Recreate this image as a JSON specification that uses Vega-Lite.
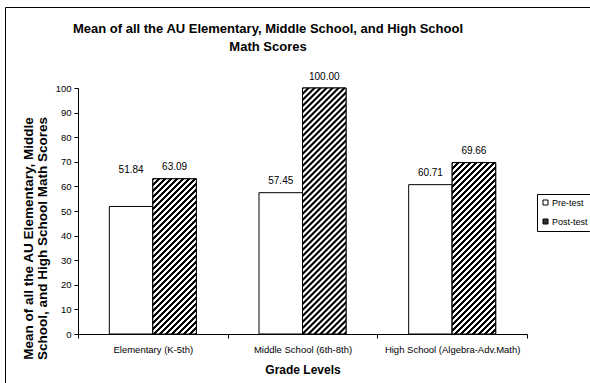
{
  "$schema": "https://vega.github.io/schema/vega-lite/v6.json",
  "width": 585,
  "height": 376,
  "autosize": {"type": "none"},
  "padding": {"left": 5, "top": 7, "right": 0, "bottom": 0},
  "background": "white",
  "config": {
    "font": "Liberation Sans",
    "view": {"stroke": "black", "strokeWidth": 1},
    "axis": {
      "grid": false,
      "domainColor": "black",
      "tickColor": "black",
      "labelColor": "black",
      "titleColor": "black",
      "labelFont": "Liberation Sans",
      "titleFont": "Liberation Sans",
      "domainWidth": 1,
      "tickWidth": 1
    }
  },
  "title": {
    "text": ["Mean of all the AU Elementary, Middle School, and High School", "Math Scores"],
    "fontSize": 13,
    "fontWeight": "bold",
    "color": "black",
    "lineHeight": 18.5,
    "anchor": "middle",
    "frame": "group",
    "dx": -29.5,
    "offset": -47
  },
  "data": {
    "values": [
      {"grade": "Elementary (K-5th)", "series": "Pre-test", "score": 51.84},
      {"grade": "Elementary (K-5th)", "series": "Post-test", "score": 63.09},
      {"grade": "Middle School (6th-8th)", "series": "Pre-test", "score": 57.45},
      {"grade": "Middle School (6th-8th)", "series": "Post-test", "score": 100.00},
      {"grade": "High School (Algebra-Adv.Math)", "series": "Pre-test", "score": 60.71},
      {"grade": "High School (Algebra-Adv.Math)", "series": "Post-test", "score": 69.66}
    ]
  },
  "encoding": {
    "x": {
      "field": "grade",
      "type": "nominal",
      "sort": ["Elementary (K-5th)", "Middle School (6th-8th)", "High School (Algebra-Adv.Math)"],
      "scale": {"range": [73, 522], "paddingInner": 0, "paddingOuter": 0},
      "axis": {
        "orient": "bottom",
        "offset": -49,
        "tickBand": "extent",
        "labelAngle": 0,
        "tickSize": 4,
        "labelPadding": 6,
        "labelFontSize": 9.5,
        "title": "Grade Levels",
        "titleFontSize": 12,
        "titleFontWeight": "bold",
        "titleBaseline": "alphabetic",
        "titleY": 39
      }
    },
    "xOffset": {
      "field": "series",
      "type": "nominal",
      "scale": {"domain": ["Pre-test", "Post-test"], "paddingOuter": 0.72, "paddingInner": 0}
    },
    "y": {
      "field": "score",
      "type": "quantitative",
      "scale": {"domain": [0, 100], "range": [327, 81], "nice": false, "zero": true},
      "axis": {
        "orient": "left",
        "offset": -73,
        "values": [0, 10, 20, 30, 40, 50, 60, 70, 80, 90, 100],
        "tickSize": 4,
        "labelPadding": 3,
        "labelFontSize": 9.5,
        "title": ["Mean of all the AU Elementary, Middle", "School, and High School Math Scores"],
        "titleFontSize": 13.5,
        "titleFontWeight": "bold",
        "titleLineHeight": 14,
        "titleAngle": -90,
        "titleAlign": "center",
        "titleBaseline": "middle",
        "titleX": -50,
        "titleY": 231
      }
    }
  },
  "layer": [
    {
      "mark": {"type": "bar", "stroke": "black", "strokeWidth": 1},
      "encoding": {
        "fill": {
          "field": "series",
          "type": "nominal",
          "scale": {"domain": ["Pre-test", "Post-test"], "range": ["white", "#333333"]},
          "legend": {
            "title": null,
            "orient": "none",
            "legendX": 532,
            "legendY": 187,
            "strokeColor": "black",
            "fillColor": "white",
            "padding": 4,
            "rowPadding": 9,
            "symbolType": "square",
            "symbolSize": 25,
            "symbolStrokeColor": "black",
            "symbolStrokeWidth": 1,
            "labelFontSize": 9,
            "labelColor": "black",
            "labelOffset": 2
          }
        }
      }
    },
    {
      "transform": [{"filter": "datum.series === 'Post-test' && datum.grade === 'Elementary (K-5th)'"}],
      "mark": {
        "type": "bar",
        "stroke": "black",
        "strokeWidth": 1,
        "fill": {
          "gradient": "linear",
          "x1": 0, "y1": 0, "x2": 0.5023, "y2": 1.7922,
          "stops": [
            {"offset":0.0045,"color":"#000"},{"offset":0.0055,"color":"#fff"},{"offset":0.0145,"color":"#fff"},{"offset":0.0155,"color":"#000"},
            {"offset":0.0245,"color":"#000"},{"offset":0.0255,"color":"#fff"},{"offset":0.0345,"color":"#fff"},{"offset":0.0355,"color":"#000"},
            {"offset":0.0445,"color":"#000"},{"offset":0.0455,"color":"#fff"},{"offset":0.0545,"color":"#fff"},{"offset":0.0555,"color":"#000"},
            {"offset":0.0645,"color":"#000"},{"offset":0.0655,"color":"#fff"},{"offset":0.0745,"color":"#fff"},{"offset":0.0755,"color":"#000"},
            {"offset":0.0845,"color":"#000"},{"offset":0.0855,"color":"#fff"},{"offset":0.0945,"color":"#fff"},{"offset":0.0955,"color":"#000"},
            {"offset":0.1045,"color":"#000"},{"offset":0.1055,"color":"#fff"},{"offset":0.1145,"color":"#fff"},{"offset":0.1155,"color":"#000"},
            {"offset":0.1245,"color":"#000"},{"offset":0.1255,"color":"#fff"},{"offset":0.1345,"color":"#fff"},{"offset":0.1355,"color":"#000"},
            {"offset":0.1445,"color":"#000"},{"offset":0.1455,"color":"#fff"},{"offset":0.1545,"color":"#fff"},{"offset":0.1555,"color":"#000"},
            {"offset":0.1645,"color":"#000"},{"offset":0.1655,"color":"#fff"},{"offset":0.1745,"color":"#fff"},{"offset":0.1755,"color":"#000"},
            {"offset":0.1845,"color":"#000"},{"offset":0.1855,"color":"#fff"},{"offset":0.1945,"color":"#fff"},{"offset":0.1955,"color":"#000"},
            {"offset":0.2045,"color":"#000"},{"offset":0.2055,"color":"#fff"},{"offset":0.2145,"color":"#fff"},{"offset":0.2155,"color":"#000"},
            {"offset":0.2245,"color":"#000"},{"offset":0.2255,"color":"#fff"},{"offset":0.2345,"color":"#fff"},{"offset":0.2355,"color":"#000"},
            {"offset":0.2445,"color":"#000"},{"offset":0.2455,"color":"#fff"},{"offset":0.2545,"color":"#fff"},{"offset":0.2555,"color":"#000"},
            {"offset":0.2645,"color":"#000"},{"offset":0.2655,"color":"#fff"},{"offset":0.2745,"color":"#fff"},{"offset":0.2755,"color":"#000"},
            {"offset":0.2845,"color":"#000"},{"offset":0.2855,"color":"#fff"},{"offset":0.2945,"color":"#fff"},{"offset":0.2955,"color":"#000"},
            {"offset":0.3045,"color":"#000"},{"offset":0.3055,"color":"#fff"},{"offset":0.3145,"color":"#fff"},{"offset":0.3155,"color":"#000"},
            {"offset":0.3245,"color":"#000"},{"offset":0.3255,"color":"#fff"},{"offset":0.3345,"color":"#fff"},{"offset":0.3355,"color":"#000"},
            {"offset":0.3445,"color":"#000"},{"offset":0.3455,"color":"#fff"},{"offset":0.3545,"color":"#fff"},{"offset":0.3555,"color":"#000"},
            {"offset":0.3645,"color":"#000"},{"offset":0.3655,"color":"#fff"},{"offset":0.3745,"color":"#fff"},{"offset":0.3755,"color":"#000"},
            {"offset":0.3845,"color":"#000"},{"offset":0.3855,"color":"#fff"},{"offset":0.3945,"color":"#fff"},{"offset":0.3955,"color":"#000"},
            {"offset":0.4045,"color":"#000"},{"offset":0.4055,"color":"#fff"},{"offset":0.4145,"color":"#fff"},{"offset":0.4155,"color":"#000"},
            {"offset":0.4245,"color":"#000"},{"offset":0.4255,"color":"#fff"},{"offset":0.4345,"color":"#fff"},{"offset":0.4355,"color":"#000"},
            {"offset":0.4445,"color":"#000"},{"offset":0.4455,"color":"#fff"},{"offset":0.4545,"color":"#fff"},{"offset":0.4555,"color":"#000"},
            {"offset":0.4645,"color":"#000"},{"offset":0.4655,"color":"#fff"},{"offset":0.4745,"color":"#fff"},{"offset":0.4755,"color":"#000"},
            {"offset":0.4845,"color":"#000"},{"offset":0.4855,"color":"#fff"},{"offset":0.4945,"color":"#fff"},{"offset":0.4955,"color":"#000"},
            {"offset":0.5045,"color":"#000"},{"offset":0.5055,"color":"#fff"},{"offset":0.5145,"color":"#fff"},{"offset":0.5155,"color":"#000"},
            {"offset":0.5245,"color":"#000"},{"offset":0.5255,"color":"#fff"},{"offset":0.5345,"color":"#fff"},{"offset":0.5355,"color":"#000"},
            {"offset":0.5445,"color":"#000"},{"offset":0.5455,"color":"#fff"},{"offset":0.5545,"color":"#fff"},{"offset":0.5555,"color":"#000"},
            {"offset":0.5645,"color":"#000"},{"offset":0.5655,"color":"#fff"},{"offset":0.5745,"color":"#fff"},{"offset":0.5755,"color":"#000"},
            {"offset":0.5845,"color":"#000"},{"offset":0.5855,"color":"#fff"},{"offset":0.5945,"color":"#fff"},{"offset":0.5955,"color":"#000"},
            {"offset":0.6045,"color":"#000"},{"offset":0.6055,"color":"#fff"},{"offset":0.6145,"color":"#fff"},{"offset":0.6155,"color":"#000"},
            {"offset":0.6245,"color":"#000"},{"offset":0.6255,"color":"#fff"},{"offset":0.6345,"color":"#fff"},{"offset":0.6355,"color":"#000"},
            {"offset":0.6445,"color":"#000"},{"offset":0.6455,"color":"#fff"},{"offset":0.6545,"color":"#fff"},{"offset":0.6555,"color":"#000"},
            {"offset":0.6645,"color":"#000"},{"offset":0.6655,"color":"#fff"},{"offset":0.6745,"color":"#fff"},{"offset":0.6755,"color":"#000"}
          ]
        }
      }
    },
    {
      "transform": [{"filter": "datum.series === 'Post-test' && datum.grade === 'Middle School (6th-8th)'"}],
      "mark": {
        "type": "bar",
        "stroke": "black",
        "strokeWidth": 1,
        "fill": {
          "gradient": "linear",
          "x1": 0, "y1": 0, "x2": 0.2091, "y2": 1.1825,
          "stops": [
            {"offset":0.0045,"color":"#000"},{"offset":0.0055,"color":"#fff"},{"offset":0.0145,"color":"#fff"},{"offset":0.0155,"color":"#000"},
            {"offset":0.0245,"color":"#000"},{"offset":0.0255,"color":"#fff"},{"offset":0.0345,"color":"#fff"},{"offset":0.0355,"color":"#000"},
            {"offset":0.0445,"color":"#000"},{"offset":0.0455,"color":"#fff"},{"offset":0.0545,"color":"#fff"},{"offset":0.0555,"color":"#000"},
            {"offset":0.0645,"color":"#000"},{"offset":0.0655,"color":"#fff"},{"offset":0.0745,"color":"#fff"},{"offset":0.0755,"color":"#000"},
            {"offset":0.0845,"color":"#000"},{"offset":0.0855,"color":"#fff"},{"offset":0.0945,"color":"#fff"},{"offset":0.0955,"color":"#000"},
            {"offset":0.1045,"color":"#000"},{"offset":0.1055,"color":"#fff"},{"offset":0.1145,"color":"#fff"},{"offset":0.1155,"color":"#000"},
            {"offset":0.1245,"color":"#000"},{"offset":0.1255,"color":"#fff"},{"offset":0.1345,"color":"#fff"},{"offset":0.1355,"color":"#000"},
            {"offset":0.1445,"color":"#000"},{"offset":0.1455,"color":"#fff"},{"offset":0.1545,"color":"#fff"},{"offset":0.1555,"color":"#000"},
            {"offset":0.1645,"color":"#000"},{"offset":0.1655,"color":"#fff"},{"offset":0.1745,"color":"#fff"},{"offset":0.1755,"color":"#000"},
            {"offset":0.1845,"color":"#000"},{"offset":0.1855,"color":"#fff"},{"offset":0.1945,"color":"#fff"},{"offset":0.1955,"color":"#000"},
            {"offset":0.2045,"color":"#000"},{"offset":0.2055,"color":"#fff"},{"offset":0.2145,"color":"#fff"},{"offset":0.2155,"color":"#000"},
            {"offset":0.2245,"color":"#000"},{"offset":0.2255,"color":"#fff"},{"offset":0.2345,"color":"#fff"},{"offset":0.2355,"color":"#000"},
            {"offset":0.2445,"color":"#000"},{"offset":0.2455,"color":"#fff"},{"offset":0.2545,"color":"#fff"},{"offset":0.2555,"color":"#000"},
            {"offset":0.2645,"color":"#000"},{"offset":0.2655,"color":"#fff"},{"offset":0.2745,"color":"#fff"},{"offset":0.2755,"color":"#000"},
            {"offset":0.2845,"color":"#000"},{"offset":0.2855,"color":"#fff"},{"offset":0.2945,"color":"#fff"},{"offset":0.2955,"color":"#000"},
            {"offset":0.3045,"color":"#000"},{"offset":0.3055,"color":"#fff"},{"offset":0.3145,"color":"#fff"},{"offset":0.3155,"color":"#000"},
            {"offset":0.3245,"color":"#000"},{"offset":0.3255,"color":"#fff"},{"offset":0.3345,"color":"#fff"},{"offset":0.3355,"color":"#000"},
            {"offset":0.3445,"color":"#000"},{"offset":0.3455,"color":"#fff"},{"offset":0.3545,"color":"#fff"},{"offset":0.3555,"color":"#000"},
            {"offset":0.3645,"color":"#000"},{"offset":0.3655,"color":"#fff"},{"offset":0.3745,"color":"#fff"},{"offset":0.3755,"color":"#000"},
            {"offset":0.3845,"color":"#000"},{"offset":0.3855,"color":"#fff"},{"offset":0.3945,"color":"#fff"},{"offset":0.3955,"color":"#000"},
            {"offset":0.4045,"color":"#000"},{"offset":0.4055,"color":"#fff"},{"offset":0.4145,"color":"#fff"},{"offset":0.4155,"color":"#000"},
            {"offset":0.4245,"color":"#000"},{"offset":0.4255,"color":"#fff"},{"offset":0.4345,"color":"#fff"},{"offset":0.4355,"color":"#000"},
            {"offset":0.4445,"color":"#000"},{"offset":0.4455,"color":"#fff"},{"offset":0.4545,"color":"#fff"},{"offset":0.4555,"color":"#000"},
            {"offset":0.4645,"color":"#000"},{"offset":0.4655,"color":"#fff"},{"offset":0.4745,"color":"#fff"},{"offset":0.4755,"color":"#000"},
            {"offset":0.4845,"color":"#000"},{"offset":0.4855,"color":"#fff"},{"offset":0.4945,"color":"#fff"},{"offset":0.4955,"color":"#000"},
            {"offset":0.5045,"color":"#000"},{"offset":0.5055,"color":"#fff"},{"offset":0.5145,"color":"#fff"},{"offset":0.5155,"color":"#000"},
            {"offset":0.5245,"color":"#000"},{"offset":0.5255,"color":"#fff"},{"offset":0.5345,"color":"#fff"},{"offset":0.5355,"color":"#000"},
            {"offset":0.5445,"color":"#000"},{"offset":0.5455,"color":"#fff"},{"offset":0.5545,"color":"#fff"},{"offset":0.5555,"color":"#000"},
            {"offset":0.5645,"color":"#000"},{"offset":0.5655,"color":"#fff"},{"offset":0.5745,"color":"#fff"},{"offset":0.5755,"color":"#000"},
            {"offset":0.5845,"color":"#000"},{"offset":0.5855,"color":"#fff"},{"offset":0.5945,"color":"#fff"},{"offset":0.5955,"color":"#000"},
            {"offset":0.6045,"color":"#000"},{"offset":0.6055,"color":"#fff"},{"offset":0.6145,"color":"#fff"},{"offset":0.6155,"color":"#000"},
            {"offset":0.6245,"color":"#000"},{"offset":0.6255,"color":"#fff"},{"offset":0.6345,"color":"#fff"},{"offset":0.6355,"color":"#000"},
            {"offset":0.6445,"color":"#000"},{"offset":0.6455,"color":"#fff"},{"offset":0.6545,"color":"#fff"},{"offset":0.6555,"color":"#000"},
            {"offset":0.6645,"color":"#000"},{"offset":0.6655,"color":"#fff"},{"offset":0.6745,"color":"#fff"},{"offset":0.6755,"color":"#000"},
            {"offset":0.6845,"color":"#000"},{"offset":0.6855,"color":"#fff"},{"offset":0.6945,"color":"#fff"},{"offset":0.6955,"color":"#000"},
            {"offset":0.7045,"color":"#000"},{"offset":0.7055,"color":"#fff"},{"offset":0.7145,"color":"#fff"},{"offset":0.7155,"color":"#000"},
            {"offset":0.7245,"color":"#000"},{"offset":0.7255,"color":"#fff"},{"offset":0.7345,"color":"#fff"},{"offset":0.7355,"color":"#000"},
            {"offset":0.7445,"color":"#000"},{"offset":0.7455,"color":"#fff"},{"offset":0.7545,"color":"#fff"},{"offset":0.7555,"color":"#000"},
            {"offset":0.7645,"color":"#000"},{"offset":0.7655,"color":"#fff"},{"offset":0.7745,"color":"#fff"},{"offset":0.7755,"color":"#000"},
            {"offset":0.7845,"color":"#000"},{"offset":0.7855,"color":"#fff"},{"offset":0.7945,"color":"#fff"},{"offset":0.7955,"color":"#000"},
            {"offset":0.8045,"color":"#000"},{"offset":0.8055,"color":"#fff"},{"offset":0.8145,"color":"#fff"},{"offset":0.8155,"color":"#000"},
            {"offset":0.8245,"color":"#000"},{"offset":0.8255,"color":"#fff"},{"offset":0.8345,"color":"#fff"},{"offset":0.8355,"color":"#000"},
            {"offset":0.8445,"color":"#000"},{"offset":0.8455,"color":"#fff"},{"offset":0.8545,"color":"#fff"},{"offset":0.8555,"color":"#000"},
            {"offset":0.8645,"color":"#000"},{"offset":0.8655,"color":"#fff"},{"offset":0.8745,"color":"#fff"},{"offset":0.8755,"color":"#000"},
            {"offset":0.8845,"color":"#000"},{"offset":0.8855,"color":"#fff"},{"offset":0.8945,"color":"#fff"},{"offset":0.8955,"color":"#000"},
            {"offset":0.9045,"color":"#000"},{"offset":0.9055,"color":"#fff"},{"offset":0.9145,"color":"#fff"},{"offset":0.9155,"color":"#000"},
            {"offset":0.9245,"color":"#000"},{"offset":0.9255,"color":"#fff"},{"offset":0.9345,"color":"#fff"},{"offset":0.9355,"color":"#000"},
            {"offset":0.9445,"color":"#000"},{"offset":0.9455,"color":"#fff"},{"offset":0.9545,"color":"#fff"},{"offset":0.9555,"color":"#000"},
            {"offset":0.9645,"color":"#000"},{"offset":0.9655,"color":"#fff"},{"offset":0.9745,"color":"#fff"},{"offset":0.9755,"color":"#000"}
          ]
        }
      }
    },
    {
      "transform": [{"filter": "datum.series === 'Post-test' && datum.grade === 'High School (Algebra-Adv.Math)'"}],
      "mark": {
        "type": "bar",
        "stroke": "black",
        "strokeWidth": 1,
        "fill": {
          "gradient": "linear",
          "x1": 0, "y1": 0, "x2": 0.4175, "y2": 1.6447,
          "stops": [
            {"offset":0.0045,"color":"#000"},{"offset":0.0055,"color":"#fff"},{"offset":0.0145,"color":"#fff"},{"offset":0.0155,"color":"#000"},
            {"offset":0.0245,"color":"#000"},{"offset":0.0255,"color":"#fff"},{"offset":0.0345,"color":"#fff"},{"offset":0.0355,"color":"#000"},
            {"offset":0.0445,"color":"#000"},{"offset":0.0455,"color":"#fff"},{"offset":0.0545,"color":"#fff"},{"offset":0.0555,"color":"#000"},
            {"offset":0.0645,"color":"#000"},{"offset":0.0655,"color":"#fff"},{"offset":0.0745,"color":"#fff"},{"offset":0.0755,"color":"#000"},
            {"offset":0.0845,"color":"#000"},{"offset":0.0855,"color":"#fff"},{"offset":0.0945,"color":"#fff"},{"offset":0.0955,"color":"#000"},
            {"offset":0.1045,"color":"#000"},{"offset":0.1055,"color":"#fff"},{"offset":0.1145,"color":"#fff"},{"offset":0.1155,"color":"#000"},
            {"offset":0.1245,"color":"#000"},{"offset":0.1255,"color":"#fff"},{"offset":0.1345,"color":"#fff"},{"offset":0.1355,"color":"#000"},
            {"offset":0.1445,"color":"#000"},{"offset":0.1455,"color":"#fff"},{"offset":0.1545,"color":"#fff"},{"offset":0.1555,"color":"#000"},
            {"offset":0.1645,"color":"#000"},{"offset":0.1655,"color":"#fff"},{"offset":0.1745,"color":"#fff"},{"offset":0.1755,"color":"#000"},
            {"offset":0.1845,"color":"#000"},{"offset":0.1855,"color":"#fff"},{"offset":0.1945,"color":"#fff"},{"offset":0.1955,"color":"#000"},
            {"offset":0.2045,"color":"#000"},{"offset":0.2055,"color":"#fff"},{"offset":0.2145,"color":"#fff"},{"offset":0.2155,"color":"#000"},
            {"offset":0.2245,"color":"#000"},{"offset":0.2255,"color":"#fff"},{"offset":0.2345,"color":"#fff"},{"offset":0.2355,"color":"#000"},
            {"offset":0.2445,"color":"#000"},{"offset":0.2455,"color":"#fff"},{"offset":0.2545,"color":"#fff"},{"offset":0.2555,"color":"#000"},
            {"offset":0.2645,"color":"#000"},{"offset":0.2655,"color":"#fff"},{"offset":0.2745,"color":"#fff"},{"offset":0.2755,"color":"#000"},
            {"offset":0.2845,"color":"#000"},{"offset":0.2855,"color":"#fff"},{"offset":0.2945,"color":"#fff"},{"offset":0.2955,"color":"#000"},
            {"offset":0.3045,"color":"#000"},{"offset":0.3055,"color":"#fff"},{"offset":0.3145,"color":"#fff"},{"offset":0.3155,"color":"#000"},
            {"offset":0.3245,"color":"#000"},{"offset":0.3255,"color":"#fff"},{"offset":0.3345,"color":"#fff"},{"offset":0.3355,"color":"#000"},
            {"offset":0.3445,"color":"#000"},{"offset":0.3455,"color":"#fff"},{"offset":0.3545,"color":"#fff"},{"offset":0.3555,"color":"#000"},
            {"offset":0.3645,"color":"#000"},{"offset":0.3655,"color":"#fff"},{"offset":0.3745,"color":"#fff"},{"offset":0.3755,"color":"#000"},
            {"offset":0.3845,"color":"#000"},{"offset":0.3855,"color":"#fff"},{"offset":0.3945,"color":"#fff"},{"offset":0.3955,"color":"#000"},
            {"offset":0.4045,"color":"#000"},{"offset":0.4055,"color":"#fff"},{"offset":0.4145,"color":"#fff"},{"offset":0.4155,"color":"#000"},
            {"offset":0.4245,"color":"#000"},{"offset":0.4255,"color":"#fff"},{"offset":0.4345,"color":"#fff"},{"offset":0.4355,"color":"#000"},
            {"offset":0.4445,"color":"#000"},{"offset":0.4455,"color":"#fff"},{"offset":0.4545,"color":"#fff"},{"offset":0.4555,"color":"#000"},
            {"offset":0.4645,"color":"#000"},{"offset":0.4655,"color":"#fff"},{"offset":0.4745,"color":"#fff"},{"offset":0.4755,"color":"#000"},
            {"offset":0.4845,"color":"#000"},{"offset":0.4855,"color":"#fff"},{"offset":0.4945,"color":"#fff"},{"offset":0.4955,"color":"#000"},
            {"offset":0.5045,"color":"#000"},{"offset":0.5055,"color":"#fff"},{"offset":0.5145,"color":"#fff"},{"offset":0.5155,"color":"#000"},
            {"offset":0.5245,"color":"#000"},{"offset":0.5255,"color":"#fff"},{"offset":0.5345,"color":"#fff"},{"offset":0.5355,"color":"#000"},
            {"offset":0.5445,"color":"#000"},{"offset":0.5455,"color":"#fff"},{"offset":0.5545,"color":"#fff"},{"offset":0.5555,"color":"#000"},
            {"offset":0.5645,"color":"#000"},{"offset":0.5655,"color":"#fff"},{"offset":0.5745,"color":"#fff"},{"offset":0.5755,"color":"#000"},
            {"offset":0.5845,"color":"#000"},{"offset":0.5855,"color":"#fff"},{"offset":0.5945,"color":"#fff"},{"offset":0.5955,"color":"#000"},
            {"offset":0.6045,"color":"#000"},{"offset":0.6055,"color":"#fff"},{"offset":0.6145,"color":"#fff"},{"offset":0.6155,"color":"#000"},
            {"offset":0.6245,"color":"#000"},{"offset":0.6255,"color":"#fff"},{"offset":0.6345,"color":"#fff"},{"offset":0.6355,"color":"#000"},
            {"offset":0.6445,"color":"#000"},{"offset":0.6455,"color":"#fff"},{"offset":0.6545,"color":"#fff"},{"offset":0.6555,"color":"#000"},
            {"offset":0.6645,"color":"#000"},{"offset":0.6655,"color":"#fff"},{"offset":0.6745,"color":"#fff"},{"offset":0.6755,"color":"#000"},
            {"offset":0.6845,"color":"#000"},{"offset":0.6855,"color":"#fff"},{"offset":0.6945,"color":"#fff"},{"offset":0.6955,"color":"#000"},
            {"offset":0.7045,"color":"#000"},{"offset":0.7055,"color":"#fff"},{"offset":0.7145,"color":"#fff"},{"offset":0.7155,"color":"#000"},
            {"offset":0.7245,"color":"#000"},{"offset":0.7255,"color":"#fff"},{"offset":0.7345,"color":"#fff"},{"offset":0.7355,"color":"#000"}
          ]
        }
      }
    },
    {
      "transform": [{"filter": "!(datum.series === 'Pre-test' && datum.grade === 'Elementary (K-5th)')"}],
      "mark": {"type": "text", "fontSize": 10, "baseline": "alphabetic", "dy": -8.5, "color": "black"},
      "encoding": {"text": {"field": "score", "type": "quantitative", "format": ".2f"}}
    },
    {
      "transform": [{"filter": "datum.series === 'Pre-test' && datum.grade === 'Elementary (K-5th)'"}],
      "mark": {"type": "text", "fontSize": 10, "baseline": "alphabetic", "dy": -33, "color": "black"},
      "encoding": {"text": {"field": "score", "type": "quantitative", "format": ".2f"}}
    }
  ]
}
